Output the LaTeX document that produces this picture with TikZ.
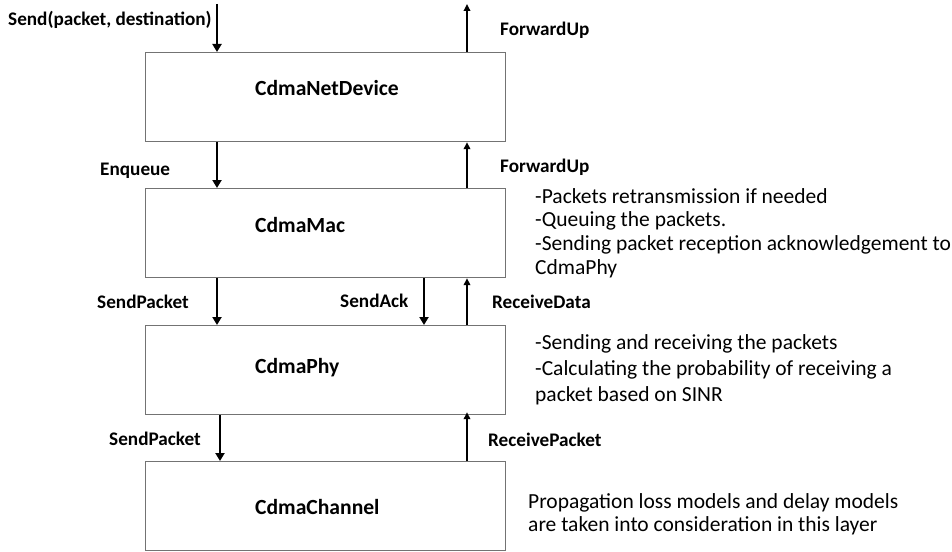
\documentclass[tikz,border=0pt]{standalone}
\usepackage{fontspec}
\setmainfont{Carlito}
\usetikzlibrary{arrows.meta}
\begin{document}
\begin{tikzpicture}[x=1pt,y=-1pt,
  layer/.style={draw=black!55,line width=1.2pt,minimum width=360pt,minimum height=89pt,inner sep=0pt,anchor=north west},
  boxlabel/.style={anchor=west,font=\fontsize{21.6}{24}\selectfont\bfseries,inner sep=0pt},
  arrlabel/.style={font=\fontsize{19.2}{22}\selectfont\bfseries,inner sep=0pt},
  desc/.style={anchor=north west,align=left,inner sep=0pt},
  dn/.style={line width=2.7pt,-{Triangle[width=9pt,length=8pt]}},
  up/.style={line width=1.7pt,-{Triangle[width=6.5pt,length=7pt]}}]
\useasboundingbox (0,0) rectangle (952,551);
% layers
\node[layer] (net) at (145,52) {};
\node[layer] (mac) at (145,188) {};
\node[layer] (phy) at (145,325) {};
\node[layer] (chan) at (145,461) {};
\node[boxlabel] (netl) at (255,88) {CdmaNetDevice};
\node[boxlabel] (macl) at (255,225) {CdmaMac};
\node[boxlabel] (phyl) at (255,368) {CdmaPhy};
\node[boxlabel] (chanl) at (255,507) {CdmaChannel};
% x references
\coordinate (topin) at (217,4);
\coordinate (topout) at (467,4);
\coordinate (xl) at (217,0);
\coordinate (xl3) at (220,0);
\coordinate (xr) at (467,0);
\coordinate (xa) at (424,0);
% arrows
\draw[dn] (topin) -- (net.north -| topin);
\draw[up] (net.north -| topout) -- (topout);
\draw[dn] (net.south -| xl) -- (mac.north -| xl);
\draw[up] (mac.north -| xr) -- (net.south -| xr);
\draw[dn] (mac.south -| xl) -- (phy.north -| xl);
\draw[dn] (mac.south -| xa) -- (phy.north -| xa);
\draw[up] (phy.north -| xr) -- (mac.south -| xr);
\draw[dn] (phy.south -| xl3) -- (chan.north -| xl3);
\draw[up] (chan.north -| xr) -- ([yshift=3pt]phy.south -| xr);
% arrow labels
\node[arrlabel,anchor=west] (l1) at (8,20) {Send(packet, destination)};
\node[arrlabel,anchor=west] (l2) at (500,30) {ForwardUp};
\node[arrlabel,anchor=west] (l3) at (100,171) {Enqueue};
\node[arrlabel,anchor=west] (l4) at (500,167) {ForwardUp};
\node[arrlabel,anchor=west] (l5) at (97,302) {SendPacket};
\node[arrlabel,anchor=west] (l6) at (340,301) {SendAck};
\node[arrlabel,anchor=west] (l7) at (492,302) {ReceiveData};
\node[arrlabel,anchor=west] (l8) at (109,439) {SendPacket};
\node[arrlabel,anchor=west] (l9) at (488,440) {ReceivePacket};
% descriptions
\node[desc,font=\fontsize{21.5}{23.7}\selectfont] (d1) at (535,188) {-Packets retransmission if needed\\-Queuing the packets.\\-Sending packet reception acknowledgement to\\CdmaPhy};
\node[desc,font=\fontsize{21.5}{26}\selectfont] (d2) at (535,334) {-Sending and receiving the packets\\-Calculating the probability of receiving a\\packet based on SINR};
\node[desc,font=\fontsize{21.5}{23}\selectfont] (d3) at (528,493) {Propagation loss models and delay models\\are taken into consideration in this layer};
\end{tikzpicture}
\end{document}
